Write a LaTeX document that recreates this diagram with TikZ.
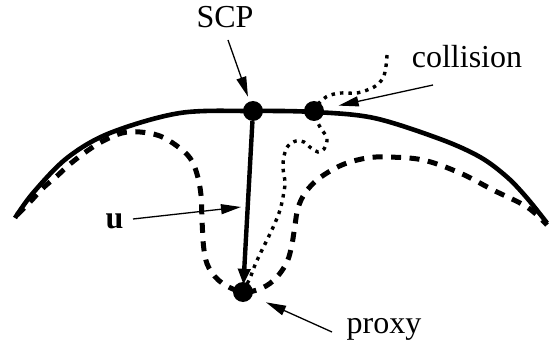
\documentclass[tikz,border=0pt]{standalone}
\usepackage{fontspec}
\setmainfont{Liberation Serif}
\usetikzlibrary{arrows.meta}
\tikzset{
  lbl/.style={font=\fontsize{32}{36}\selectfont, inner sep=0pt, anchor=base},
  dot/.style={circle, fill=black, minimum size=20pt, inner sep=0pt},
  pointer/.style={line width=1.3pt, -{Triangle[length=20pt,width=10pt]}},
  surface/.style={line width=4.6pt, line join=round},
  proxypath/.style={line width=5pt, dash pattern=on 10pt off 8.5pt},
  trace/.style={line width=3.4pt, dash pattern=on 3.5pt off 5pt},
  uvec/.style={line width=4.4pt, -{Triangle[length=16pt,width=12pt]}}
}
\begin{document}
\begin{tikzpicture}[x=1pt,y=-1pt]
\useasboundingbox (0,0) rectangle (549,342);
% surface (solid)
\draw[surface] plot[smooth, tension=0.55] coordinates {(15,218) (33,193) (67,158) (110,133) (180,113) (253,111) (314,112) (374,118) (440,139) (480,157) (507,177) (527,198) (547,223)};
% proxy path (dashed)
\draw[proxypath] plot[smooth, tension=0.6] coordinates {(17,215) (30,202) (43,188) (57,176) (70,164) (87,151) (103,141) (122,133) (140,132) (160,136) (177,146) (190,158) (197,174) (201,195) (202,220) (204,250) (209,268) (222,283) (243,292) (262,288) (276,278) (287,262) (292,244) (295,225) (298,208) (305,193) (317,180) (332,170) (347,163) (367,158) (387,157) (423,160) (460,173) (493,190) (527,207) (547,225)};
% trace (dotted)
\draw[trace] plot[smooth, tension=0.55] coordinates {(387,55) (386,66) (383,78) (374,87) (357,93) (341,93) (326,97) (314,111) (320,127) (327,138) (324,149) (318,152) (311,148) (304,142) (296,141) (288,146) (284,156) (283,168) (285,183) (283,197) (280,210) (275,223) (268,238) (261,252) (255,265) (250,278) (243,292)};
% points
\node[dot] (scp) at (253,111) {};
\node[dot] (col) at (314,111) {};
\node[dot] (prx) at (243,292) {};
% u vector
\draw[uvec, shorten >=-3pt] (scp) -- (prx);
% labels
\node[lbl] (tscp) at (225,28) {SCP};
\node[lbl] (tcol) at (467,68) {collision};
\node[lbl] (tu) at (114.5,228) {\textbf{u}};
\node[lbl] (tprx) at (384,333) {proxy};
% pointer tails / targets
\coordinate (ascp) at (228,40);
\coordinate (acol) at (433,85);
\coordinate (aprx) at (332,332);
\coordinate (au) at (133,219);
\coordinate (umid) at (241,207);
\draw[pointer, shorten >=5pt] (ascp) -- (scp);
\draw[pointer, shorten >=15pt] (acol) -- (col);
\draw[pointer, shorten >=15pt] (aprx) -- (prx);
\draw[pointer] (au) -- (umid);
\end{tikzpicture}
\end{document}
